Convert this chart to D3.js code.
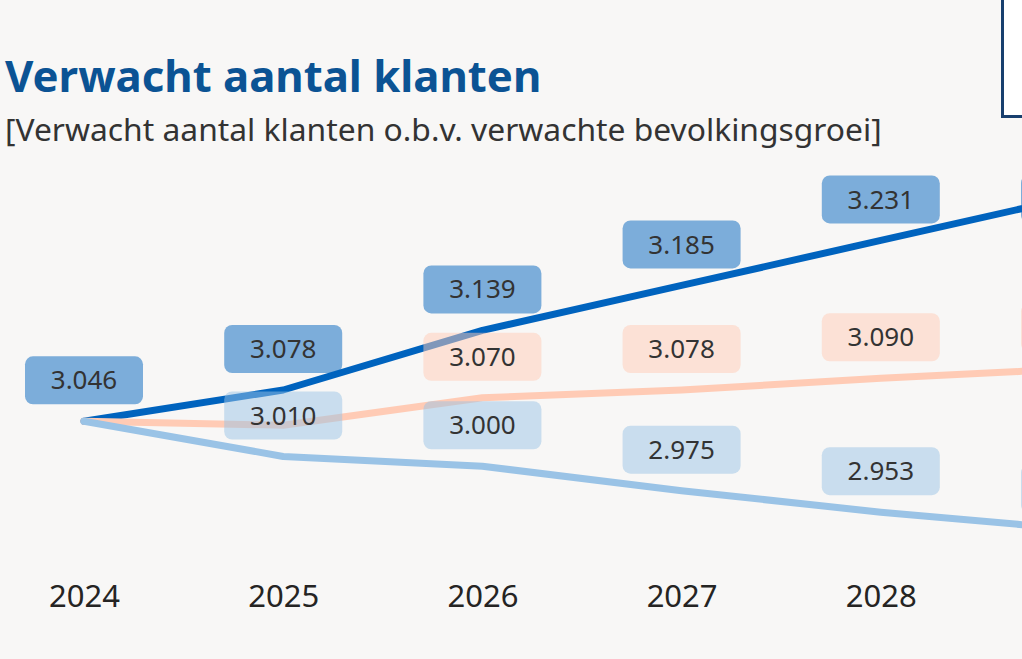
<!DOCTYPE html>
<html>
<head>
<meta charset="utf-8">
<script src="https://cdn.jsdelivr.net/npm/d3@7"></script>
<style>
  body { margin: 0; background: #F8F7F6; }
  text { font-family: "Segoe UI", "Noto Sans", "Open Sans", sans-serif; }
</style>
</head>
<body>
<div id="chart"></div>
<script>
var width = 1022,
  height = 659

// data
var years = ['2024', '2025', '2026', '2027', '2028', '2029']
var hoog = [3.046, 3.078, 3.139, 3.185, 3.231, 3.277]
var midden = [3.046, 3.042, 3.070, 3.078, 3.090, 3.100]
var laag = [3.046, 3.010, 3.000, 2.975, 2.953, 2.935]

// which labels are shown (the rest are hidden like in the report)
var hoogLabels = [true, true, true, true, true, true]
var middenLabels = [false, false, true, true, true, true]
var laagLabels = [false, true, true, true, true, true]

var series = [
  { name: 'hoog', values: hoog, labels: hoogLabels, color: '#0063BE' },
  { name: 'midden', values: midden, labels: middenLabels, color: '#FFCBB5' },
  { name: 'laag', values: laag, labels: laagLabels, color: '#9AC3E6' }
]

var plotTop = 175

var svg = d3.select("#chart")
  .append("svg")
  .attr("width", width)
  .attr("height", height)

svg.append("rect")
  .attr("width", width)
  .attr("height", height)
  .attr("fill", "#F8F7F6")

// card in the top right corner
svg.append("rect")
  .attr("x", 1002.5)
  .attr("y", -10)
  .attr("width", 60)
  .attr("height", 126.5)
  .attr("fill", "white")
  .attr("stroke", "#183F6E")
  .attr("stroke-width", 3)

// titles
svg.append("text")
  .attr("x", 5)
  .attr("y", 92)
  .text("Verwacht aantal klanten")
  .style("font-size", "43.7px")
  .style("font-weight", "bold")
  .style("fill", "#0B5394")

svg.append("text")
  .attr("x", 5)
  .attr("y", 141)
  .text("[Verwacht aantal klanten o.b.v. verwachte bevolkingsgroei]")
  .style("font-size", "31.8px")
  .style("fill", "#333333")

// scales
var xScale = d3.scalePoint()
  .domain(years)
  .range([84, 1080])

var yScale = d3.scaleLinear()
  .domain([2.9, 3.3])
  .range([564, 173])

// x axis
var xAxis = d3.axisBottom(xScale)
  .tickSize(0)
  .tickPadding(0)

svg.append("g")
  .attr("class", "x-axis")
  .attr("transform", "translate(0,585)")
  .call(xAxis)
  .call(g => g.select(".domain").remove())
  .selectAll("text")
  .attr("dy", "0.71em")
  .style("font-size", "31px")
  .style("font-family", '"Segoe UI", "Noto Sans", sans-serif')
  .style("fill", "#252423")

// lines
var line = d3.line()
  .x((d, i) => xScale(years[i]))
  .y(d => yScale(d))

var linesG = svg.append("g").attr("class", "lines")

linesG.selectAll("path")
  .data(series)
  .enter()
  .append("path")
  .attr("d", d => line(d.values))
  .attr("fill", "none")
  .attr("stroke", d => d.color)
  .attr("stroke-width", 7)
  .attr("stroke-linejoin", "round")
  .attr("stroke-linecap", "round")

// data labels
var labelsG = svg.append("g").attr("class", "labels")
var boxW = 118,
  boxH = 48

series.forEach(function(s) {
  var pts = s.values.map((v, i) => ({ year: years[i], value: v, show: s.labels[i] }))
    .filter(d => d.show)

  var g = labelsG.selectAll(".label-" + s.name)
    .data(pts)
    .enter()
    .append("g")
    .attr("class", "label-" + s.name)
    .attr("transform", d => {
      var top = Math.max(plotTop, yScale(d.value) - 65)
      return `translate(${xScale(d.year)},${top})`
    })

  g.append("rect")
    .attr("x", -boxW / 2)
    .attr("width", boxW)
    .attr("height", boxH)
    .attr("rx", 8)
    .attr("fill", s.color)
    .attr("fill-opacity", 0.5)

  g.append("text")
    .attr("y", boxH / 2)
    .attr("dy", "0.35em")
    .attr("text-anchor", "middle")
    .text(d => d3.format(".3f")(d.value))
    .style("font-size", "26px")
    .style("fill", "#333333")
})
</script>
</body>
</html>
